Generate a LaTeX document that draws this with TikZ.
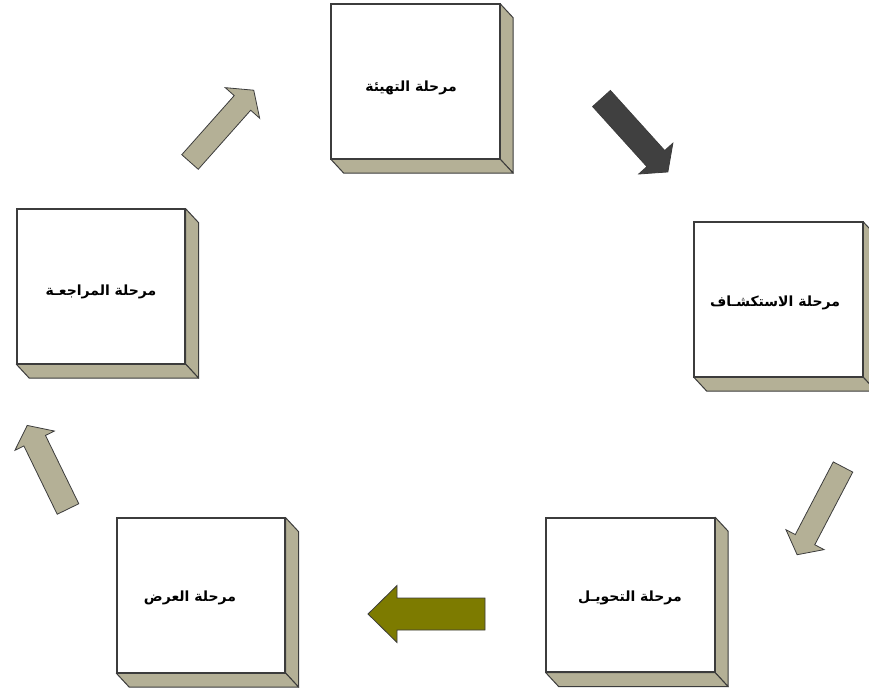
\documentclass[tikz,border=0pt]{standalone}
\usepackage{fontspec}
\newfontfamily\arabicfont[Script=Arabic]{DejaVu Sans}
\TeXXeTstate=1
\definecolor{beige}{HTML}{B4B096}
\definecolor{darkarrow}{HTML}{404040}
\definecolor{olivearrow}{HTML}{7D7B00}
\definecolor{edgegray}{HTML}{3C3C3C}
\tikzset{
  stagebox/.style={draw=edgegray, line width=1.4pt, fill=white, minimum width=168pt, minimum height=154pt, inner sep=0pt},
  sideface/.style={draw=edgegray, line width=1pt, fill=beige, line join=round},
  stagelabel/.style={font=\arabicfont\bfseries\fontsize{14}{16}\selectfont, inner sep=0pt},
  arrowshape/.style={draw=edgegray, line width=0.8pt, line join=miter}
}
% #1 name, #2 tail point, #3 angle, #4 length, #5 shaft width, #6 head width, #7 head length, #8 fill
\newcommand{\blockarrow}[8]{%
  \begin{scope}[shift={(#2)}, rotate=#3]
    \draw[arrowshape, fill=#8] (0,-#5/2) -- (#4-#7,-#5/2) -- (#4-#7,-#6/2) -- (#4,0)
      coordinate (#1) -- (#4-#7,#6/2) -- (#4-#7,#5/2) -- (0,#5/2) -- cycle;
  \end{scope}}
\newcommand{\extrude}[1]{%
  \draw[sideface] (#1.north east) -- ([shift={(13,-14)}]#1.north east) -- ([shift={(13,-14)}]#1.south east) -- (#1.south east) -- cycle;
  \draw[sideface] (#1.south west) -- (#1.south east) -- ([shift={(13,-14)}]#1.south east) -- ([shift={(13,-14)}]#1.south west) -- cycle;
  \draw[edgegray, line width=1.4pt] (#1.south west) rectangle (#1.north east);}
\begin{document}
\begin{tikzpicture}[x=1pt, y=1pt]
\useasboundingbox (0,0) rectangle (869,689);
% boxes
\node[stagebox] (tahyia) at (415.5,607.5) {};
\node[stagebox] (istikshaf) at (778.5,389.5) {};
\node[stagebox] (tahwil) at (630.5,94) {};
\node[stagebox] (ard) at (201,93.5) {};
\node[stagebox] (muraja) at (101,402.5) {};
\extrude{tahyia}
\extrude{istikshaf}
\extrude{tahwil}
\extrude{ard}
\extrude{muraja}
% labels
\node[stagelabel] (l1) at (411,601) {\beginR مرحلة التهيئة\endR};
\node[stagelabel] (l2) at (775,386) {\beginR مرحلة الاستكشـاف\endR};
\node[stagelabel] (l3) at (630,91) {\beginR مرحلة التحويـل\endR};
\node[stagelabel] (l4) at (190,91) {\beginR مرحلة العرض\endR};
\node[stagelabel] (l5) at (101,397) {\beginR مرحلة المراجعـة\endR};
% arrows
\blockarrow{a1}{190,527}{48.4}{96}{22}{46}{17}{beige}
\blockarrow{a2}{601.5,590.5}{-47.9}{99}{24}{46}{18}{darkarrow}
\blockarrow{a3}{843,222}{-117.6}{99}{22}{43}{17}{beige}
\blockarrow{a4}{485,75}{180}{117}{32}{57}{29}{olivearrow}
\blockarrow{a5}{68,180}{116}{93}{24}{44}{17}{beige}
\end{tikzpicture}
\end{document}
